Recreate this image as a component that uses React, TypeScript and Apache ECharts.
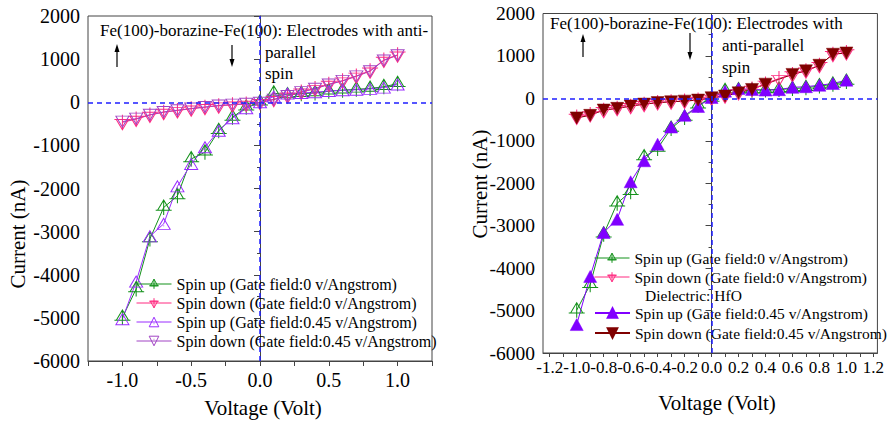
import React, { useEffect, useRef } from 'react';
import * as echarts from 'echarts';

// ---------- data ----------
const volts = [-1.0, -0.9, -0.8, -0.7, -0.6, -0.5, -0.4, -0.3, -0.2, -0.1, 0.0, 0.1, 0.2, 0.3, 0.4, 0.5, 0.6, 0.7, 0.8, 0.9, 1.0];

const seriesNames = [
  'Spin up (Gate field:0 v/Angstrom)',
  'Spin down (Gate field:0 v/Angstrom)',
  'Spin up (Gate field:0.45 v/Angstrom)',
  'Spin down (Gate field:0.45 v/Angstrom)',
];

// left panel (nA)
const leftUpGate0 = [-4990, -4330, -3170, -2440, -2170, -1315, -1160, -660, -350, -115, 0, 210, 170, 200, 215, 255, 280, 300, 320, 360, 430];
const leftDownGate0 = [-465, -390, -295, -230, -190, -150, -115, -80, -60, -40, 0, 70, 150, 240, 320, 420, 500, 610, 730, 980, 1100];
const leftUpGate045 = [-5030, -4160, -3110, -2820, -1950, -1430, -1045, -660, -370, -140, 0, 130, 200, 215, 230, 260, 280, 290, 310, 340, 410];
const leftDownGate045 = [-450, -380, -290, -225, -185, -145, -110, -75, -55, -35, -10, 60, 145, 235, 315, 410, 495, 600, 720, 970, 1090];

// right panel (nA), dielectric HfO
const rightUpGate0 = [-4990, -4390, -3200, -2470, -2200, -1380, -1180, -710, -450, -160, 0, 180, 200, 190, 200, 210, 230, 250, 290, 330, 400];
const rightDownGate0 = [-440, -380, -280, -235, -185, -140, -100, -80, -60, -40, 10, 60, 140, 220, 340, 470, 560, 650, 780, 1040, 1080];
const rightUpGate045 = [-5330, -4195, -3160, -2850, -1965, -1470, -1080, -675, -400, -190, 20, 170, 230, 210, 195, 205, 260, 275, 310, 350, 430];
const rightDownGate045: (number | null)[] = [-460, -400, -275, -235, -180, -135, -100, -80, -65, -40, 15, 55, 130, 210, 335, null, 565, 650, 780, 1040, 1070];

// axis ticks / labels
const yMin = -6000;
const yMax = 2000;
const yStep = 1000;
const leftXLabels = [-1.0, -0.5, 0.0, 0.5, 1.0];
const rightXLabels = [-1.2, -1.0, -0.8, -0.6, -0.4, -0.2, 0.0, 0.2, 0.4, 0.6, 0.8, 1.0, 1.2];
const rightXTicks = [-1.2, -1.1, -1.0, -0.9, -0.8, -0.7, -0.6, -0.5, -0.4, -0.3, -0.2, -0.1, 0.0, 0.1, 0.2, 0.3, 0.4, 0.5, 0.6, 0.7, 0.8, 0.9, 1.0, 1.1, 1.2];

// ---------- styling ----------
const FONT = 'Liberation Serif';
const GREEN = '#13911a';
const PINK = '#ff2a80';
const PURPLE = '#9a2cff';
const PURPLE2 = '#a144c4';
const VIOLET = '#8000ff';
const DARKRED = '#800000';
const AXIS = '#444';
const ZERO = '#1f1fff';
const CLEAR = 'rgba(255,255,255,0)';

const UP_PLUS = 'path://M0,-6L6.5,5L-6.5,5Z M0,-6L0,10 M-8.5,5L8.5,5';
const UP_DOT = 'path://M0,-6L6.5,5L-6.5,5Z M-0.5,1.5L0.5,1.5';

const pairs = (ys: (number | null)[]) => volts.map((v, i) => [v, ys[i] === null ? '-' : ys[i]]);

function openSeries(name: string, ys: (number | null)[], color: string, symbol: string, size: number[], rotate: number) {
  return {
    name,
    type: 'line',
    data: pairs(ys),
    symbol,
    symbolSize: size,
    symbolRotate: rotate,
    connectNulls: true,
    itemStyle: { color: CLEAR, borderColor: color, borderWidth: 1 },
    lineStyle: { color, width: 1 },
  };
}

function filledSeries(name: string, ys: (number | null)[], color: string, rotate: number) {
  return {
    name,
    type: 'line',
    data: pairs(ys),
    symbol: 'triangle',
    symbolSize: [13, 12],
    symbolRotate: rotate,
    connectNulls: true,
    itemStyle: { color, borderColor: color, borderWidth: 0.5 },
    lineStyle: { color, width: 1 },
  };
}

const openLegendItem = (name: string, color: string) => ({
  name,
  itemStyle: { color: CLEAR, borderColor: color, borderWidth: 1 },
  lineStyle: { color, width: 1 },
});

const zeroLines = {
  silent: true,
  symbol: ['none', 'none'],
  label: { show: false },
  lineStyle: { color: ZERO, type: [5, 4], width: 1.5 },
  data: [{ yAxis: 0 }, { xAxis: 0 }],
};

function yAxisOpt(fontSize: number) {
  return {
    type: 'value',
    min: yMin,
    max: yMax,
    interval: yStep,
    axisLine: { show: true, lineStyle: { color: AXIS, width: 1 } },
    axisTick: { show: true, length: 6, lineStyle: { color: AXIS } },
    minorTick: { show: true, splitNumber: 2, length: 3, lineStyle: { color: AXIS } },
    splitLine: { show: false },
    axisLabel: { color: '#000', fontFamily: FONT, fontSize, margin: 8, formatter: (v: number) => String(v) },
  };
}

function txt(x: number, y: number, text: string, fontSize: number, extra: any = {}) {
  return {
    type: 'text',
    x,
    y,
    silent: true,
    ...extra,
    style: { text, fontSize, fontFamily: FONT, fill: '#000', verticalAlign: 'middle', align: 'left', ...(extra.style || {}) },
  };
}

function arrowUp(x: number, yTop: number, yBottom: number) {
  return [
    { type: 'line', silent: true, shape: { x1: x, y1: yBottom, x2: x, y2: yTop + 6 }, style: { stroke: '#000', lineWidth: 1.2 } },
    { type: 'polygon', silent: true, shape: { points: [[x, yTop], [x - 2.5, yTop + 8], [x + 2.5, yTop + 8]] }, style: { fill: '#000' } },
  ];
}
function arrowDown(x: number, yTop: number, yBottom: number) {
  return [
    { type: 'line', silent: true, shape: { x1: x, y1: yTop, x2: x, y2: yBottom - 6 }, style: { stroke: '#000', lineWidth: 1.2 } },
    { type: 'polygon', silent: true, shape: { points: [[x, yBottom], [x - 2.5, yBottom - 8], [x + 2.5, yBottom - 8]] }, style: { fill: '#000' } },
  ];
}

const legendBase = {
  orient: 'vertical',
  padding: 0,
  itemWidth: 35,
  itemHeight: 12,
  selectedMode: false,
};

const leftOption = {
  animation: false,
  backgroundColor: '#fff',
  grid: { left: 88, top: 16, width: 344, height: 345, show: true, borderColor: AXIS, borderWidth: 1, backgroundColor: 'transparent' },
  xAxis: {
    type: 'value',
    min: -1.25,
    max: 1.25,
    interval: 0.25,
    axisLine: { show: true, onZero: false, lineStyle: { color: AXIS, width: 1 } },
    axisTick: { show: true, length: 5, lineStyle: { color: AXIS } },
    splitLine: { show: false },
    axisLabel: {
      color: '#000',
      fontFamily: FONT,
      fontSize: 20,
      margin: 9,
      formatter: (v: number) => {
        const hit = leftXLabels.find((l) => Math.abs(l - v) < 1e-6);
        return hit === undefined ? '' : hit.toFixed(1);
      },
    },
  },
  yAxis: yAxisOpt(20),
  legend: {
    ...legendBase,
    data: [
      openLegendItem(seriesNames[0], GREEN),
      openLegendItem(seriesNames[1], PINK),
      openLegendItem(seriesNames[2], PURPLE),
      openLegendItem(seriesNames[3], PURPLE2),
    ],
    left: 136,
    top: 276,
    itemGap: 3,
    textStyle: { color: '#000', fontFamily: FONT, fontSize: 16, lineHeight: 16 },
  },
  series: [
    { ...openSeries(seriesNames[0], leftUpGate0, GREEN, UP_PLUS, [16, 15], 0), markLine: zeroLines },
    openSeries(seriesNames[1], leftDownGate0, PINK, UP_PLUS, [16, 15], 180),
    openSeries(seriesNames[2], leftUpGate045, PURPLE, UP_DOT, [13, 11], 0),
    openSeries(seriesNames[3], leftDownGate045, PURPLE2, UP_DOT, [13, 11], 180),
  ],
  graphic: [
    txt(100, 30, 'Fe(100)-borazine-Fe(100): Electrodes with anti-', 17),
    txt(265, 52, 'parallel', 17),
    txt(265, 73, 'spin', 17),
    ...arrowUp(117, 44, 67),
    ...arrowDown(232, 45, 67),
    txt(263, 408, 'Voltage (Volt)', 21, { style: { align: 'center' } }),
    txt(18, 234, 'Current (nA)', 21, { rotation: Math.PI / 2, style: { align: 'center' } }),
  ],
};

const rightOption = {
  animation: false,
  backgroundColor: '#fff',
  grid: { left: 93, top: 13.5, width: 340, height: 339.5, show: true, borderColor: AXIS, borderWidth: 1, backgroundColor: 'transparent' },
  xAxis: {
    type: 'value',
    min: -1.25,
    max: 1.23,
    axisLine: { show: true, onZero: false, lineStyle: { color: AXIS, width: 1 } },
    axisTick: { show: true, length: 4, customValues: rightXTicks, lineStyle: { color: AXIS } },
    splitLine: { show: false },
    axisLabel: {
      color: '#000',
      fontFamily: FONT,
      fontSize: 17,
      margin: 6,
      customValues: rightXLabels,
      formatter: (v: number) => v.toFixed(1),
    },
  },
  yAxis: yAxisOpt(19.5),
  legend: [
    {
      ...legendBase,
      data: [openLegendItem(seriesNames[0], GREEN), openLegendItem(seriesNames[1], PINK)],
      left: 144,
      top: 250,
      itemGap: 3,
      textStyle: { color: '#000', fontFamily: FONT, fontSize: 15.5, lineHeight: 16 },
    },
    {
      ...legendBase,
      data: [seriesNames[2], seriesNames[3]],
      left: 144,
      top: 305,
      itemGap: 4,
      textStyle: { color: '#000', fontFamily: FONT, fontSize: 15.5, lineHeight: 16 },
    },
  ],
  series: [
    { ...openSeries(seriesNames[0], rightUpGate0, GREEN, UP_PLUS, [16, 15], 0), markLine: zeroLines },
    openSeries(seriesNames[1], rightDownGate0, PINK, UP_PLUS, [16, 15], 180),
    filledSeries(seriesNames[2], rightUpGate045, VIOLET, 0),
    filledSeries(seriesNames[3], rightDownGate045, DARKRED, 180),
  ],
  graphic: [
    txt(100, 23, 'Fe(100)-borazine-Fe(100): Electrodes with', 17),
    txt(272, 45, 'anti-parallel', 17),
    txt(272, 67, 'spin', 17),
    ...arrowUp(133, 34, 57),
    ...arrowDown(240, 33, 60),
    txt(195, 295, 'Dielectric: HfO', 15.5),
    txt(267, 403, 'Voltage (Volt)', 21, { style: { align: 'center' } }),
    txt(30, 184, 'Current (nA)', 21, { rotation: Math.PI / 2, style: { align: 'center' } }),
  ],
};

function Chart({ option, style }: { option: any; style: React.CSSProperties }) {
  const ref = useRef<HTMLDivElement>(null);
  useEffect(() => {
    if (!ref.current) return;
    const chart = echarts.init(ref.current, undefined, { renderer: 'svg' });
    chart.setOption(option);
    return () => chart.dispose();
  }, [option]);
  return <div ref={ref} style={style} />;
}

export default function App() {
  return (
    <div style={{ position: 'absolute', left: 0, top: 0, width: 887, height: 426, background: '#fff' }}>
      <Chart option={leftOption} style={{ position: 'absolute', left: 0, top: 0, width: 450, height: 426 }} />
      <Chart option={rightOption} style={{ position: 'absolute', left: 450, top: 0, width: 437, height: 426 }} />
    </div>
  );
}
